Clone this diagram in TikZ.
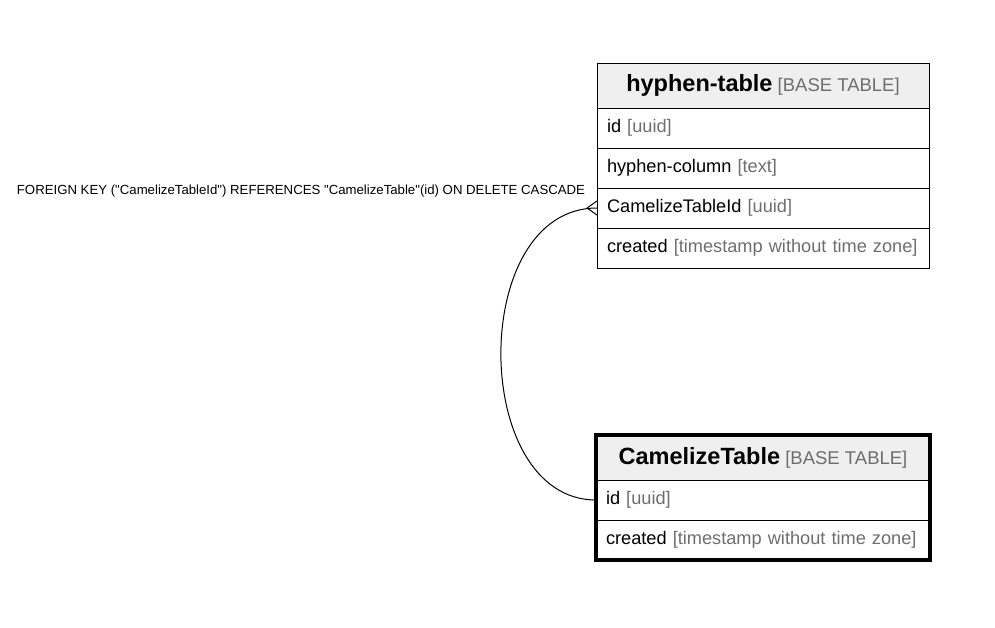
\documentclass[tikz,border=0pt]{standalone}
\usepackage{fontspec}
\setmainfont{Liberation Sans}
\usepackage{xcolor}
\usetikzlibrary{
    positioning,
    fit
}
\definecolor{HeadGray}{RGB}{239,239,239}
\definecolor{TypeGray}{RGB}{110,110,110}
\tikzset{
  tblhead/.style = {draw, fill=HeadGray, minimum width=332pt, minimum height=45pt,
                    inner sep=0pt, outer sep=0pt, line width=1pt,
                    font=\fontsize{18.5}{20}\selectfont},
  tblrow/.style  = {draw, text width=312pt, inner xsep=10pt, inner ysep=0pt,
                    minimum height=40pt, align=left, outer sep=0pt, line width=1pt,
                    text height=13pt, text depth=4pt,
                    font=\fontsize{18.2}{20}\selectfont},
  fkline/.style  = {black, line width=1pt}
}
\newcommand{\tblname}[1]{{\fontsize{23.5}{26}\selectfont\bfseries #1}}
\newcommand{\coltype}[1]{\textcolor{TypeGray}{[#1]}}
\newcommand{\dq}{\textquotedbl}

\begin{document}
\begin{tikzpicture}[x=1pt, y=-1pt]
\useasboundingbox (0,0) rectangle (995,627);
% hyphen-table
\node[tblhead] (hh) at (763,85.5) {\tblname{hyphen-table} \coltype{BASE TABLE}};
\node[tblrow, below=0pt of hh]   (hid)   {id \coltype{uuid}};
\node[tblrow, below=0pt of hid]  (hcol)  {hyphen-column \coltype{text}};
\node[tblrow, below=0pt of hcol] (hcid)  {CamelizeTableId \coltype{uuid}};
\node[tblrow, below=0pt of hcid] (hcre)  {created \coltype{timestamp without time zone}};
% CamelizeTable
\node[tblhead, minimum width=334pt] (ch) at (763,457.5) {\tblname{CamelizeTable} \coltype{BASE TABLE}};
\node[tblrow, text width=314pt, below=0pt of ch]  (cid)  {id \coltype{uuid}};
\node[tblrow, text width=314pt, below=0pt of cid] (ccre) {created \coltype{timestamp without time zone}};
\node[fit=(ch)(ccre), draw, line width=4pt, inner sep=0pt] (cbox) {};
% foreign key
\coordinate[left=10pt of hcid.west] (crow);
\draw[fkline] (cid.west) .. controls +(-126,0) and +(-129,0) .. (hcid.west);
\draw[fkline] (crow) -- ([yshift=7pt]hcid.west);
\draw[fkline] (crow) -- ([yshift=-7pt]hcid.west);
\node[font=\fontsize{13.2}{15}\selectfont] (fklabel) at (301,191)
    {FOREIGN KEY (\dq CamelizeTableId\dq) REFERENCES \dq CamelizeTable\dq(id) ON DELETE CASCADE};
\end{tikzpicture}
\end{document}
